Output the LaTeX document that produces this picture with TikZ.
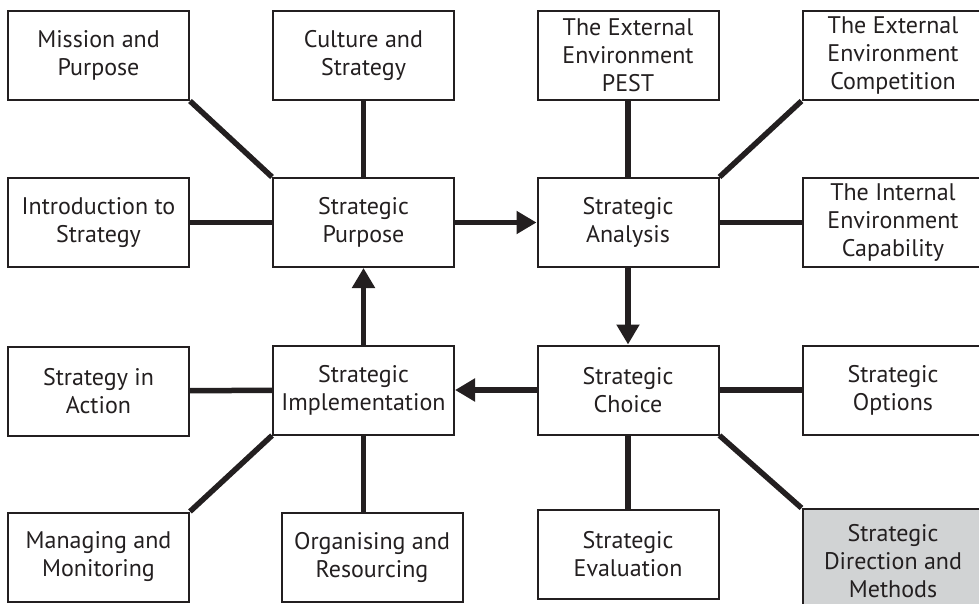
\documentclass[tikz,border=0pt]{standalone}
\usepackage{fontspec}
\setmainfont{PT Sans}
\usetikzlibrary{arrows.meta,positioning}
\definecolor{ink}{HTML}{231F20}
\definecolor{shade}{HTML}{D1D3D4}
\tikzset{
every picture/.style={
line width=2pt
}}

\begin{document}
\begin{tikzpicture}[x=1pt, y=-1pt,
block/.style = {rectangle, draw=ink, line width=2pt, align=center, minimum width=181pt, minimum height=89pt, inner sep=0pt, text=ink, font=\fontsize{24}{28}\selectfont},
link/.style = {draw=ink, line width=5.5pt},
flow/.style = {draw=ink, fill=ink, line width=5.5pt, -{Triangle[length=20pt,width=22pt]}}]

\useasboundingbox (0,0) rectangle (979,604);

\node [block] at (98.5,55.5) (mis) {Mission and\\Purpose};
\node [block] at (363.5,55.5) (cul) {Culture and\\Strategy};
\node [block] at (628,55.5) (pest) {The External\\Environment\\PEST};
\node [block] at (893,55.5) (comp) {The External\\Environment\\Competition};

\node [block] at (98.5,222.5) (intro) {Introduction to\\Strategy};
\node [block] at (363.5,222.5) (purp) {Strategic\\Purpose};
\node [block] at (628,222.5) (anal) {Strategic\\Analysis};
\node [block] at (893,222.5) (intl) {The Internal\\Environment\\Capability};

\node [block] at (98.5,391) (act) {Strategy in\\Action};
\node [block] at (363.5,390) (impl) {Strategic\\Implementation};
\node [block] at (628,390) (choice) {Strategic\\Choice};
\node [block] at (893,390) (opt) {Strategic\\Options};

\node [block] at (98.5,557) (mon) {Managing and\\Monitoring};
\node [block] at (372,557) (org) {Organising and\\Resourcing};
\node [block] at (628,554.5) (eval) {Strategic\\Evaluation};
\node [block, fill=shade, minimum height=105pt] at (893,561.5) (dir) {Strategic\\Direction and\\Methods};

\draw[link] (mis.south east) -- (purp.north west);
\draw[link] (cul) -- (purp);
\draw[link] (intro) -- (purp);
\draw[link] (pest) -- (anal);
\draw[link] (comp.south west) -- (anal.north east);
\draw[link] (anal) -- (intl);
\draw[link] (choice) -- (opt);
\draw[link] (choice.south east) -- (dir.north west);
\draw[link] (choice) -- (eval);
\draw[link] (impl) -- (act);
\draw[link] (impl.south west) -- (mon.north east);
\draw[link] (impl.south) -- (impl.south |- org.north);

\draw[flow] (purp) -- (anal);
\draw[flow] (anal) -- (choice);
\draw[flow] (choice) -- (impl);
\draw[flow] (impl) -- (purp);

\end{tikzpicture}
\end{document}
